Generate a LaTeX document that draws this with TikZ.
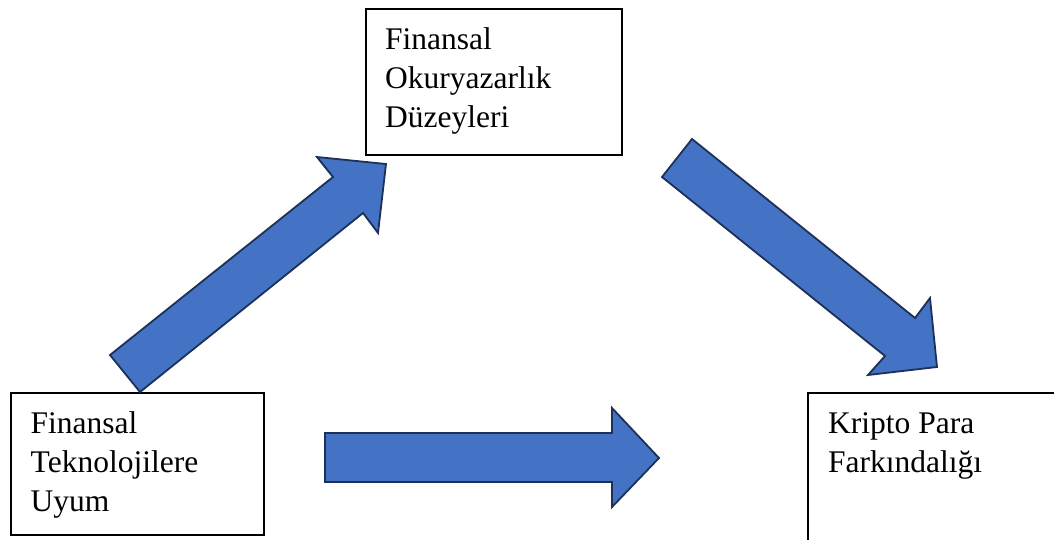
\documentclass[tikz,border=0pt]{standalone}
\usepackage{fontspec}
\setmainfont{Liberation Serif}
\definecolor{arrowfill}{HTML}{4472C4}
\definecolor{arrowline}{HTML}{1C3158}
% stack of left-aligned lines whose baseline is that of the first line
\newcommand{\linestack}[1]{\vtop{\halign{##\hfil\cr#1\crcr}}}
\begin{document}
\begin{tikzpicture}[x=1pt,y=-1pt,
  box/.style={draw=black,line width=1.8pt,fill=none,inner sep=0pt,anchor=north west},
  lbl/.style={inner sep=0pt,anchor=base west,
    font=\fontsize{31.5}{39.2}\selectfont},
  blockarrow/.style={fill=arrowfill,draw=arrowline,line width=1.8pt,line join=miter}]
\useasboundingbox (0,0) rectangle (1054,539);
\clip (0,0) rectangle (1054,539);

% the three boxes
\node[box,minimum width=256pt,minimum height=146pt] (fol) at (365,8) {};
\node[box,minimum width=253pt,minimum height=142pt] (ftu) at (10,392) {};
\node[box,minimum width=260pt,minimum height=160pt] (kpf) at (807,392) {};

% their labels
\node[lbl] (folt) at (385,49.5) {\linestack{Finansal\cr Okuryazarlık\cr Düzeyleri}};
\node[lbl] (ftut) at (30.5,433.3) {\linestack{Finansal\cr Teknolojilere\cr Uyum}};
\node[lbl] (kpft) at (828,433.3) {\linestack{Kripto Para\cr Farkındalığı}};

% block arrows
\draw[blockarrow] (140,392) -- (110,355) -- (333,177) -- (317,157) -- (386,164)
  -- (378,233) -- (363,213) -- cycle;
\draw[blockarrow] (692,139) -- (662,177) -- (885,356) -- (868,375) -- (937,367)
  -- (930,298) -- (915,318) -- cycle;
\draw[blockarrow] (325,433) -- (612,433) -- (612,408) -- (659,458) -- (612,507)
  -- (612,482) -- (325,482) -- cycle;
\end{tikzpicture}
\end{document}
